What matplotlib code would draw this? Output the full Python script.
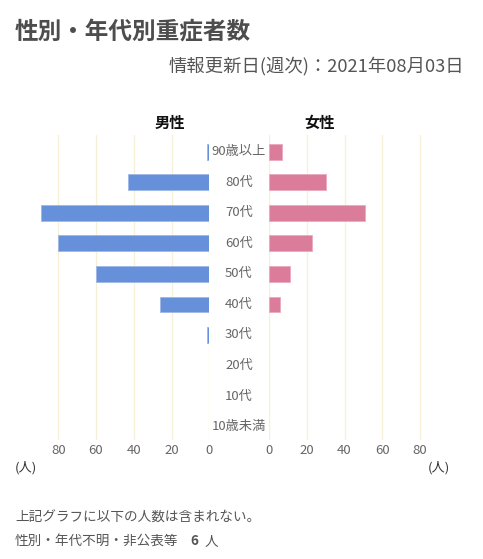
import matplotlib
matplotlib.use("Agg")
import matplotlib.pyplot as plt
from matplotlib.transforms import blended_transform_factory

plt.rcParams['font.family'] = ['Noto Sans CJK JP', 'DejaVu Sans']

categories = ["90歳以上", "80代", "70代", "60代", "50代", "40代", "30代", "20代", "10代", "10歳未満"]
male = [1, 43, 89, 80, 60, 26, 1, 0, 0, 0]
female = [7, 30, 51, 23, 11, 6, 0, 0, 0, 0]
ticks = [0, 20, 40, 60, 80]
title = "性別・年代別重症者数"
subtitle = "情報更新日(週次)：2021年08月03日"
note1 = "上記グラフに以下の人数は含まれない。"
note2 = "性別・年代不明・非公表等"
unknown_count = 6

W, H = 483, 559
fig = plt.figure(figsize=(W / 100, H / 100), dpi=100)
fig.patch.set_facecolor("white")

def fx(px):
    return px / W

def fy(py):
    return 1 - py / H

top, bottom = 135, 440
ax_l = fig.add_axes([fx(20.5), fy(bottom), fx(188.8), (bottom - top) / H])
ax_r = fig.add_axes([fx(269), fy(bottom), fx(188.8), (bottom - top) / H])

blue = "#6690d9"
pink = "#db7c9a"
grid_c = "#f6f0d6"
txt_c = "#666666"

ypos = list(range(len(categories)))
for ax, vals, col, edge in ((ax_l, male, blue, "#9fb7e8"), (ax_r, female, pink, "#eaa9bd")):
    for t in ticks:
        ax.axvline(t, color=grid_c, lw=1.0, zorder=0)
    bars = ax.barh(ypos, vals, height=0.52, color=col, edgecolor=edge, linewidth=0.6, zorder=2)
    for b, v in zip(bars, vals):
        if v == 0:
            b.set_visible(False)
    ax.set_ylim(9.44, -0.55)
    ax.set_yticks([])
    ax.set_xticks(ticks)
    ax.set_xticklabels([str(t) for t in ticks], color=txt_c, fontsize=9.5)
    ax.tick_params(axis="x", length=0, pad=3)
    for s in ax.spines.values():
        s.set_visible(False)
    ax.set_facecolor("none")

ax_l.set_xlim(100, 0)
ax_r.set_xlim(0, 100)

tr = blended_transform_factory(fig.transFigure, ax_r.transData)
for i, c in enumerate(categories):
    fig.text(fx(239), i, c, transform=tr, ha="center", va="center", color=txt_c, fontsize=9.5)

fig.text(fx(15), fy(32), title, ha="left", va="center", fontsize=17, fontweight="bold", color="#4d4d4d")
fig.text(fx(464), fy(66), subtitle, ha="right", va="center", fontsize=13.2, color="#555555")

fig.text(fx(170), fy(123), "男性", ha="center", va="center", fontsize=11, fontweight="bold", color="#111111")
fig.text(fx(320), fy(123), "女性", ha="center", va="center", fontsize=11, fontweight="bold", color="#111111")

fig.text(fx(15), fy(468), "(人)", ha="left", va="center", fontsize=9.5, color="#333333")
fig.text(fx(428), fy(468), "(人)", ha="left", va="center", fontsize=9.5, color="#333333")

fig.text(fx(15), fy(518), note1, ha="left", va="center", fontsize=9.8, color="#555555")
fig.text(fx(15), fy(541), note2, ha="left", va="center", fontsize=9.8, color="#555555")
fig.text(fx(194), fy(541), str(unknown_count), ha="center", va="center", fontsize=9.8,
         fontweight="bold", color="#555555")
fig.text(fx(205), fy(541), "人", ha="left", va="center", fontsize=9.8, color="#555555")

fig.savefig("out.png", dpi=100, facecolor="white")
